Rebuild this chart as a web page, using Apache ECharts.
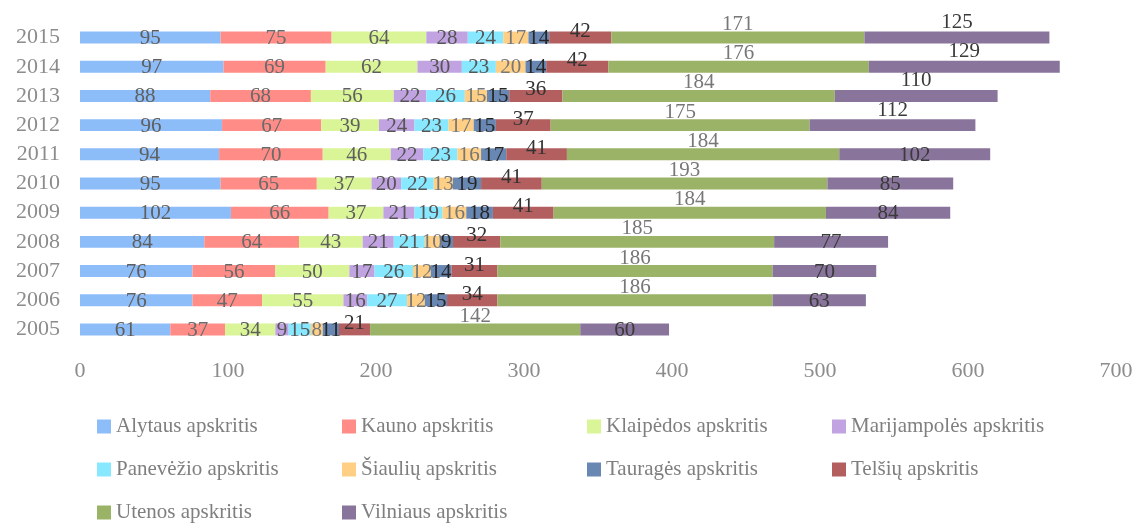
<!DOCTYPE html>
<html>
<head>
<meta charset="utf-8">
<script src="https://cdn.jsdelivr.net/npm/echarts@6/dist/echarts.min.js"></script>
<style>
  html, body { margin: 0; padding: 0; background: #fff; }
  #chart { width: 1138px; height: 523px; }
</style>
</head>
<body>
<div id="chart"></div>
<script>
// duomenys: metai (apačia -> viršus)
const years = ['2005', '2006', '2007', '2008', '2009', '2010', '2011', '2012', '2013', '2014', '2015']
const alytaus = [61, 76, 76, 84, 102, 95, 94, 96, 88, 97, 95]
const kauno = [37, 47, 56, 64, 66, 65, 70, 67, 68, 69, 75]
const klaipedos = [34, 55, 50, 43, 37, 37, 46, 39, 56, 62, 64]
const marijampoles = [9, 16, 17, 21, 21, 20, 22, 24, 22, 30, 28]
const panevezio = [15, 27, 26, 21, 19, 22, 23, 23, 26, 23, 24]
const siauliu = [8, 12, 12, 10, 16, 13, 16, 17, 15, 20, 17]
const taurages = [11, 15, 14, 9, 18, 19, 17, 15, 15, 14, 14]
const telsiu = [21, 34, 31, 32, 41, 41, 41, 37, 36, 42, 42]
const utenos = [142, 186, 186, 185, 184, 193, 184, 175, 184, 176, 171]
const vilniaus = [60, 63, 70, 77, 84, 85, 102, 112, 110, 129, 125]
const xTicks = [0, 100, 200, 300, 400, 500, 600, 700]

const FONT = 'Liberation Serif'

const seriesDefs = [
  { name: 'Alytaus apskritis', data: alytaus, color: '#8dbdf8', labelColor: '#5f5f5f' },
  { name: 'Kauno apskritis', data: kauno, color: '#ff8c87', labelColor: '#6a6a6a' },
  { name: 'Klaipėdos apskritis', data: klaipedos, color: '#daf597', labelColor: '#5f5f5f' },
  { name: 'Marijampolės apskritis', data: marijampoles, color: '#c0a3e0', labelColor: '#555' },
  { name: 'Panevėžio apskritis', data: panevezio, color: '#88e8ff', labelColor: '#555' },
  { name: 'Šiaulių apskritis', data: siauliu, color: '#ffcf85', labelColor: '#777' },
  { name: 'Tauragės apskritis', data: taurages, color: '#6887b2', labelColor: '#262626' },
  { name: 'Telšių apskritis', data: telsiu, color: '#b35f5f', labelColor: '#333', offset: [0, -6] },
  { name: 'Utenos apskritis', data: utenos, color: '#9bb367', labelColor: '#777', offset: [0, -13] },
  { name: 'Vilniaus apskritis', data: vilniaus, color: '#89759c', labelColor: '#3a3a3a' }
]

// Vilniaus etiketės 2012-2015 m. pakeltos virš juostos
const raisedVilniausYears = ['2012', '2013', '2014', '2015']

const series = seriesDefs.map(def => {
  let data = def.data
  if (def.name === 'Vilniaus apskritis') {
    data = def.data.map((v, i) => raisedVilniausYears.includes(years[i])
      ? { value: v, label: { offset: [0, -15] } }
      : v)
  }
  return {
    name: def.name,
    type: 'bar',
    stack: 'total',
    barWidth: '41%',
    itemStyle: { color: def.color },
    label: {
      show: true,
      position: 'inside',
      color: def.labelColor,
      fontFamily: FONT,
      fontSize: 21,
      textBorderWidth: 0,
      offset: def.offset || [0, 1]
    },
    emphasis: { disabled: true },
    data: data
  }
})

const chart = echarts.init(document.getElementById('chart'), null, { renderer: 'canvas' })
chart.setOption({
  backgroundColor: '#ffffff',
  animation: false,
  color: seriesDefs.map(d => d.color),
  grid: {
    left: 80,
    right: 22,
    top: 23,
    bottom: 179,
    containLabel: false,
    outerBoundsMode: 'none'
  },
  legend: {
    left: 92,
    top: 405,
    width: 1000,
    icon: 'rect',
    itemWidth: 14,
    itemHeight: 14,
    itemGap: 10,
    selectedMode: false,
    textStyle: {
      fontFamily: FONT,
      fontSize: 21,
      color: '#7f7f7f',
      width: 216,
      lineHeight: 33
    },
    data: seriesDefs.map(d => d.name)
  },
  xAxis: {
    type: 'value',
    min: xTicks[0],
    max: xTicks[xTicks.length - 1],
    interval: xTicks[1] - xTicks[0],
    axisLine: { show: false },
    axisTick: { show: false },
    splitLine: { show: false },
    axisLabel: {
      margin: 16,
      fontFamily: FONT,
      fontSize: 22,
      color: '#8c8c8c'
    }
  },
  yAxis: {
    type: 'category',
    data: years,
    axisLine: { show: false },
    axisTick: { show: false },
    axisLabel: {
      margin: 20,
      fontFamily: FONT,
      fontSize: 22,
      color: '#8c8c8c'
    }
  },
  series: series
})
</script>
</body>
</html>
